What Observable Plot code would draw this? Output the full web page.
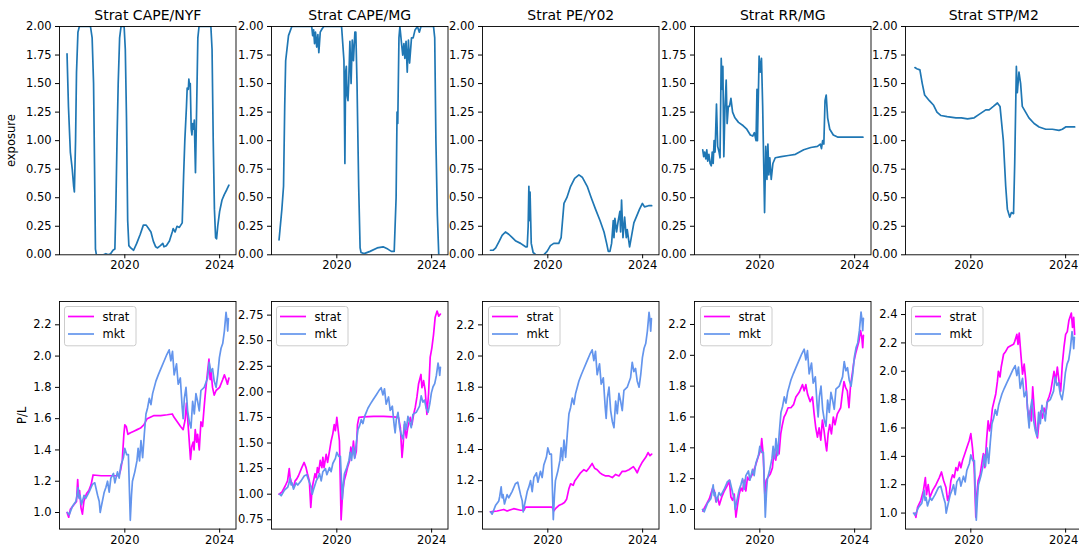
<!DOCTYPE html>
<html><head><meta charset="utf-8">
<script src="https://cdn.jsdelivr.net/npm/d3@7"></script>
<script src="https://cdn.jsdelivr.net/npm/@observablehq/plot@0.6"></script>
<style>
html,body{margin:0;padding:0;background:#fff;overflow:hidden;}
#chart{position:relative;width:1079px;height:550px;overflow:hidden;font-family:"DejaVu Sans",sans-serif;}
.cell{position:absolute;}
.cell svg{display:block;overflow:visible;max-width:none !important;}
</style></head><body><div id="chart"></div>
<script>
// ---------- data (decimal year, value) ----------
const titles = ["Strat CAPE/NYF","Strat CAPE/MG","Strat PE/Y02","Strat RR/MG","Strat STP/M2"];
const seriesNames = ["strat","mkt"];
const xTickYears = [2020, 2024];
const yTicksExposure = [0,0.25,0.5,0.75,1.0,1.25,1.5,1.75,2.0];
const yTicksPL = [
  [1.0,1.2,1.4,1.6,1.8,2.0,2.2],
  [0.75,1.0,1.25,1.5,1.75,2.0,2.25,2.5,2.75],
  [1.0,1.2,1.4,1.6,1.8,2.0,2.2],
  [1.0,1.2,1.4,1.6,1.8,2.0,2.2],
  [1.0,1.2,1.4,1.6,1.8,2.0,2.2,2.4]
];

const expCapeNyf = [[2017.56,1.76],[2017.62,1.3],[2017.7,0.9],[2017.78,0.75],[2017.84,0.6],[2017.87,0.55],[2017.92,1.0],[2017.96,1.6],[2018.02,1.95],[2018.08,2.0],[2018.55,2.0],[2018.62,1.9],[2018.68,1.5],[2018.72,0.8],[2018.76,0.05],[2018.8,0.0],[2019.1,0.0],[2019.2,0.01],[2019.3,0.0],[2019.4,0.01],[2019.5,0.04],[2019.58,0.05],[2019.62,0.4],[2019.67,1.0],[2019.72,1.5],[2019.78,1.9],[2019.84,2.0],[2019.97,2.0],[2020.02,1.8],[2020.07,1.2],[2020.12,0.3],[2020.17,0.08],[2020.25,0.06],[2020.37,0.04],[2020.5,0.1],[2020.65,0.18],[2020.78,0.26],[2020.9,0.26],[2021.0,0.23],[2021.1,0.2],[2021.2,0.12],[2021.3,0.07],[2021.38,0.06],[2021.5,0.08],[2021.6,0.1],[2021.65,0.07],[2021.75,0.08],[2021.88,0.12],[2022.0,0.2],[2022.04,0.23],[2022.12,0.2],[2022.2,0.25],[2022.3,0.24],[2022.42,0.28],[2022.48,0.7],[2022.53,1.0],[2022.6,1.3],[2022.63,1.46],[2022.68,1.45],[2022.7,1.54],[2022.73,1.48],[2022.76,1.5],[2022.8,1.1],[2022.83,1.05],[2022.86,1.15],[2022.9,1.1],[2022.93,1.18],[2022.96,0.9],[2022.98,0.72],[2023.03,1.3],[2023.08,1.9],[2023.13,2.0],[2023.63,2.0],[2023.68,1.8],[2023.73,1.0],[2023.78,0.4],[2023.83,0.15],[2023.87,0.14],[2023.92,0.25],[2024.0,0.38],[2024.1,0.48],[2024.2,0.53],[2024.3,0.57],[2024.39,0.61]];

const expCapeMg = [[2017.56,0.13],[2017.68,0.4],[2017.75,0.6],[2017.8,1.3],[2017.84,1.7],[2017.96,1.92],[2018.1,2.0],[2018.94,2.0],[2018.98,1.92],[2019.02,1.97],[2019.06,1.85],[2019.1,1.95],[2019.15,1.82],[2019.2,1.93],[2019.24,1.77],[2019.3,1.95],[2019.38,1.98],[2019.45,2.0],[2020.2,2.0],[2020.25,1.85],[2020.3,1.7],[2020.34,0.8],[2020.37,1.6],[2020.4,1.65],[2020.43,1.4],[2020.47,1.35],[2020.5,1.5],[2020.55,1.87],[2020.6,1.5],[2020.65,1.88],[2020.7,1.7],[2020.76,1.95],[2020.8,1.95],[2020.85,1.5],[2020.92,0.6],[2020.98,0.06],[2021.02,0.02],[2021.15,0.01],[2021.4,0.03],[2021.7,0.06],[2021.95,0.07],[2022.15,0.05],[2022.3,0.03],[2022.42,0.03],[2022.5,0.5],[2022.54,1.25],[2022.57,1.15],[2022.62,1.9],[2022.66,2.0],[2022.73,1.85],[2022.78,1.75],[2022.83,1.85],[2022.87,1.72],[2022.92,1.87],[2022.97,1.6],[2023.02,1.88],[2023.07,1.68],[2023.15,1.9],[2023.22,1.9],[2023.3,1.97],[2023.4,2.0],[2023.48,1.95],[2023.55,2.0],[2024.08,2.0],[2024.13,1.9],[2024.18,1.0],[2024.24,0.35],[2024.3,0.0]];

const expPeY02 = [[2017.58,0.04],[2017.7,0.04],[2017.8,0.06],[2017.95,0.12],[2018.07,0.17],[2018.21,0.2],[2018.35,0.18],[2018.5,0.15],[2018.65,0.12],[2018.85,0.1],[2019.06,0.07],[2019.13,0.07],[2019.17,0.25],[2019.2,0.6],[2019.22,0.3],[2019.25,0.55],[2019.3,0.1],[2019.38,0.02],[2019.5,0.0],[2019.83,0.0],[2019.97,0.03],[2020.11,0.08],[2020.25,0.1],[2020.46,0.1],[2020.56,0.15],[2020.68,0.45],[2020.8,0.5],[2020.96,0.6],[2021.13,0.67],[2021.31,0.7],[2021.45,0.68],[2021.66,0.6],[2021.83,0.5],[2022.01,0.4],[2022.2,0.3],[2022.37,0.2],[2022.48,0.1],[2022.55,0.03],[2022.62,0.03],[2022.69,0.1],[2022.76,0.3],[2022.79,0.15],[2022.83,0.32],[2022.9,0.2],[2022.97,0.3],[2023.04,0.38],[2023.07,0.2],[2023.11,0.48],[2023.17,0.15],[2023.24,0.33],[2023.31,0.15],[2023.35,0.22],[2023.45,0.07],[2023.52,0.15],[2023.63,0.28],[2023.77,0.35],[2023.87,0.4],[2023.99,0.45],[2024.08,0.42],[2024.25,0.43],[2024.38,0.43]];

const expRrMg = [[2017.59,0.92],[2017.63,0.86],[2017.67,0.9],[2017.72,0.84],[2017.76,0.92],[2017.8,0.82],[2017.85,0.88],[2017.9,0.8],[2017.95,0.78],[2017.99,0.9],[2018.03,0.8],[2018.07,1.0],[2018.11,0.9],[2018.17,1.32],[2018.22,0.95],[2018.28,0.9],[2018.32,0.85],[2018.37,1.72],[2018.41,1.45],[2018.44,1.65],[2018.48,0.86],[2018.53,1.3],[2018.58,1.53],[2018.62,1.15],[2018.67,1.3],[2018.72,1.3],[2018.78,1.37],[2018.85,1.25],[2018.95,1.2],[2019.1,1.16],[2019.3,1.13],[2019.45,1.1],[2019.6,1.05],[2019.7,1.04],[2019.77,1.07],[2019.84,1.0],[2019.88,1.45],[2019.9,1.0],[2019.97,1.74],[2020.02,1.6],[2020.07,1.72],[2020.12,1.3],[2020.2,0.37],[2020.25,0.95],[2020.3,0.66],[2020.34,0.97],[2020.38,0.7],[2020.42,0.85],[2020.48,0.66],[2020.55,0.8],[2020.65,0.85],[2020.9,0.86],[2021.2,0.87],[2021.5,0.88],[2021.85,0.92],[2022.15,0.94],[2022.43,0.95],[2022.55,0.97],[2022.6,0.93],[2022.65,1.0],[2022.7,0.97],[2022.75,1.35],[2022.8,1.4],[2022.86,1.2],[2022.95,1.1],[2023.1,1.05],[2023.3,1.03],[2023.7,1.03],[2024.35,1.03]];

const expStpM2 = [[2017.64,1.64],[2017.72,1.63],[2017.85,1.62],[2017.95,1.5],[2018.05,1.4],[2018.25,1.35],[2018.43,1.31],[2018.57,1.25],[2018.74,1.22],[2019.0,1.21],[2019.37,1.2],[2019.6,1.2],[2019.86,1.19],[2020.14,1.2],[2020.35,1.23],[2020.63,1.27],[2020.77,1.27],[2020.95,1.3],[2021.12,1.33],[2021.23,1.3],[2021.37,1.0],[2021.47,0.6],[2021.54,0.4],[2021.64,0.33],[2021.71,0.37],[2021.8,0.36],[2021.85,0.8],[2021.92,1.65],[2021.96,1.42],[2022.03,1.6],[2022.1,1.5],[2022.17,1.3],[2022.31,1.25],[2022.45,1.2],[2022.67,1.15],[2022.88,1.12],[2023.16,1.1],[2023.44,1.1],[2023.72,1.09],[2023.86,1.1],[2024.0,1.12],[2024.38,1.12]];

const mkt = [[2017.58,1.0],[2017.65,0.985],[2017.79,1.04],[2017.93,1.07],[2017.97,1.1],[2018.03,1.16],[2018.07,1.09],[2018.11,1.11],[2018.17,1.05],[2018.28,1.11],[2018.35,1.09],[2018.49,1.13],[2018.63,1.18],[2018.73,1.19],[2018.85,1.11],[2018.92,1.07],[2018.96,1.0],[2019.01,1.04],[2019.13,1.13],[2019.2,1.16],[2019.27,1.2],[2019.34,1.13],[2019.41,1.22],[2019.52,1.25],[2019.58,1.19],[2019.69,1.26],[2019.76,1.22],[2019.83,1.3],[2019.94,1.35],[2020.0,1.41],[2020.08,1.37],[2020.15,1.37],[2020.23,0.95],[2020.28,1.11],[2020.32,1.2],[2020.42,1.26],[2020.51,1.33],[2020.56,1.41],[2020.62,1.33],[2020.68,1.46],[2020.75,1.35],[2020.82,1.5],[2020.89,1.63],[2020.96,1.67],[2021.03,1.73],[2021.1,1.69],[2021.17,1.76],[2021.24,1.8],[2021.31,1.84],[2021.41,1.88],[2021.52,1.92],[2021.66,1.97],[2021.77,2.01],[2021.87,2.04],[2021.94,1.97],[2022.01,2.03],[2022.08,1.88],[2022.18,1.95],[2022.25,1.82],[2022.34,1.86],[2022.42,1.67],[2022.46,1.6],[2022.51,1.73],[2022.58,1.8],[2022.65,1.65],[2022.72,1.58],[2022.79,1.54],[2022.86,1.71],[2022.93,1.63],[2023.0,1.76],[2023.07,1.71],[2023.14,1.65],[2023.21,1.78],[2023.35,1.8],[2023.49,1.86],[2023.56,1.96],[2023.63,1.9],[2023.7,1.92],[2023.77,1.84],[2023.85,1.8],[2023.92,1.88],[2023.99,1.99],[2024.06,2.05],[2024.13,2.08],[2024.2,2.16],[2024.27,2.28],[2024.31,2.23],[2024.34,2.16],[2024.37,2.24]];

const stratCapeNyf = [[2017.56,1.0],[2017.63,0.97],[2017.7,1.02],[2017.85,1.05],[2017.96,1.07],[2018.01,1.21],[2018.05,1.1],[2018.09,1.14],[2018.15,1.03],[2018.21,0.99],[2018.27,1.07],[2018.38,1.12],[2018.48,1.14],[2018.58,1.18],[2018.66,1.24],[2019.0,1.235],[2019.4,1.235],[2019.75,1.235],[2019.82,1.27],[2019.89,1.33],[2019.96,1.5],[2020.0,1.56],[2020.06,1.55],[2020.13,1.5],[2020.24,1.51],[2020.38,1.52],[2020.52,1.53],[2020.66,1.54],[2020.8,1.56],[2020.94,1.6],[2021.23,1.62],[2021.51,1.62],[2021.79,1.625],[2022.0,1.63],[2022.07,1.61],[2022.21,1.58],[2022.35,1.55],[2022.46,1.53],[2022.54,1.59],[2022.6,1.7],[2022.65,1.6],[2022.72,1.45],[2022.77,1.34],[2022.82,1.42],[2022.88,1.45],[2022.92,1.4],[2022.97,1.53],[2023.03,1.45],[2023.07,1.5],[2023.14,1.4],[2023.21,1.58],[2023.28,1.55],[2023.35,1.68],[2023.39,1.75],[2023.49,1.9],[2023.55,1.98],[2023.6,1.85],[2023.64,1.9],[2023.7,1.8],[2023.77,1.75],[2023.85,1.78],[2024.0,1.8],[2024.13,1.85],[2024.2,1.88],[2024.27,1.85],[2024.33,1.82],[2024.39,1.86]];

const stratCapeMg = [[2017.56,1.0],[2017.68,1.02],[2017.82,1.08],[2017.92,1.13],[2017.99,1.25],[2018.03,1.16],[2018.1,1.1],[2018.17,1.07],[2018.24,1.13],[2018.31,1.15],[2018.38,1.18],[2018.52,1.26],[2018.62,1.31],[2018.7,1.26],[2018.76,1.2],[2018.84,1.13],[2018.9,0.87],[2018.94,1.0],[2018.99,1.1],[2019.08,1.2],[2019.13,1.16],[2019.18,1.26],[2019.23,1.21],[2019.3,1.33],[2019.37,1.26],[2019.41,1.36],[2019.46,1.26],[2019.55,1.39],[2019.61,1.31],[2019.69,1.42],[2019.76,1.52],[2019.83,1.59],[2019.89,1.68],[2019.94,1.62],[2020.0,1.75],[2020.06,1.62],[2020.11,1.52],[2020.18,0.75],[2020.24,1.0],[2020.31,1.13],[2020.39,1.2],[2020.45,1.26],[2020.54,1.33],[2020.59,1.46],[2020.65,1.39],[2020.7,1.52],[2020.76,1.36],[2020.82,1.42],[2020.87,1.68],[2020.93,1.75],[2021.13,1.755],[2021.55,1.76],[2021.97,1.76],[2022.39,1.755],[2022.6,1.75],[2022.68,1.65],[2022.75,1.36],[2022.79,1.46],[2022.85,1.68],[2022.93,1.55],[2022.99,1.65],[2023.1,1.75],[2023.17,1.68],[2023.24,1.78],[2023.31,1.85],[2023.38,1.95],[2023.45,2.08],[2023.55,2.17],[2023.59,2.04],[2023.66,2.11],[2023.73,2.01],[2023.8,1.78],[2023.87,1.98],[2023.94,2.34],[2024.01,2.43],[2024.08,2.56],[2024.15,2.73],[2024.23,2.79],[2024.3,2.74],[2024.37,2.76]];

const stratPeY02 = [[2017.58,1.0],[2017.86,1.005],[2018.14,1.015],[2018.28,1.005],[2018.56,1.02],[2018.85,1.01],[2018.99,1.01],[2019.06,1.03],[2019.55,1.03],[2020.18,1.03],[2020.25,1.005],[2020.32,1.02],[2020.46,1.04],[2020.6,1.05],[2020.7,1.06],[2020.79,1.08],[2020.89,1.15],[2020.96,1.18],[2021.07,1.17],[2021.14,1.2],[2021.24,1.22],[2021.38,1.25],[2021.52,1.27],[2021.63,1.26],[2021.73,1.28],[2021.87,1.31],[2021.97,1.28],[2022.08,1.27],[2022.2,1.25],[2022.3,1.24],[2022.44,1.23],[2022.58,1.23],[2022.72,1.22],[2022.86,1.24],[2023.0,1.23],[2023.14,1.26],[2023.28,1.26],[2023.42,1.27],[2023.61,1.29],[2023.7,1.27],[2023.77,1.25],[2023.85,1.28],[2023.99,1.32],[2024.13,1.35],[2024.23,1.38],[2024.31,1.36],[2024.38,1.37]];

const stratRrMg = [[2017.59,0.99],[2017.73,1.03],[2017.87,1.07],[2018.01,1.14],[2018.08,1.12],[2018.15,1.05],[2018.22,1.08],[2018.29,1.03],[2018.39,1.08],[2018.5,1.12],[2018.64,1.16],[2018.71,1.19],[2018.78,1.08],[2018.85,1.06],[2018.92,1.1],[2018.99,0.95],[2019.06,1.03],[2019.13,1.1],[2019.2,1.14],[2019.27,1.12],[2019.34,1.19],[2019.41,1.12],[2019.48,1.21],[2019.55,1.19],[2019.69,1.23],[2019.83,1.29],[2019.93,1.34],[2020.04,1.39],[2020.08,1.46],[2020.14,1.36],[2020.21,1.1],[2020.27,1.19],[2020.35,1.21],[2020.44,1.23],[2020.53,1.27],[2020.6,1.38],[2020.67,1.32],[2020.74,1.4],[2020.81,1.36],[2020.88,1.49],[2020.95,1.55],[2021.02,1.6],[2021.09,1.62],[2021.19,1.66],[2021.31,1.66],[2021.42,1.68],[2021.52,1.73],[2021.66,1.76],[2021.8,1.81],[2021.87,1.77],[2021.94,1.81],[2022.01,1.75],[2022.12,1.7],[2022.22,1.73],[2022.29,1.62],[2022.36,1.53],[2022.43,1.47],[2022.5,1.53],[2022.57,1.45],[2022.64,1.58],[2022.71,1.51],[2022.78,1.42],[2022.82,1.38],[2022.88,1.49],[2022.95,1.55],[2023.02,1.49],[2023.1,1.6],[2023.17,1.55],[2023.27,1.62],[2023.34,1.64],[2023.41,1.66],[2023.48,1.75],[2023.55,1.83],[2023.62,1.79],[2023.69,1.77],[2023.76,1.66],[2023.83,1.81],[2023.9,1.88],[2023.97,1.96],[2024.04,2.01],[2024.11,2.05],[2024.18,2.09],[2024.25,2.16],[2024.3,2.12],[2024.34,2.05],[2024.37,2.13]];

const stratStpM2 = [[2017.64,1.0],[2017.68,0.97],[2017.75,1.04],[2017.89,1.09],[2018.0,1.16],[2018.08,1.25],[2018.13,1.13],[2018.2,1.2],[2018.27,1.11],[2018.39,1.16],[2018.53,1.2],[2018.67,1.25],[2018.76,1.29],[2018.85,1.23],[2018.95,1.18],[2019.02,1.09],[2019.09,1.13],[2019.16,1.23],[2019.23,1.27],[2019.3,1.25],[2019.37,1.32],[2019.44,1.3],[2019.52,1.36],[2019.58,1.32],[2019.65,1.37],[2019.75,1.42],[2019.83,1.46],[2019.93,1.51],[2020.0,1.56],[2020.07,1.46],[2020.14,1.32],[2020.21,0.97],[2020.25,1.13],[2020.31,1.23],[2020.39,1.27],[2020.48,1.37],[2020.53,1.42],[2020.59,1.32],[2020.67,1.53],[2020.73,1.65],[2020.79,1.58],[2020.84,1.63],[2020.91,1.74],[2020.98,1.79],[2021.05,1.84],[2021.12,1.93],[2021.16,2.0],[2021.23,1.96],[2021.28,2.03],[2021.38,2.12],[2021.47,2.14],[2021.57,2.17],[2021.68,2.18],[2021.8,2.19],[2021.85,2.21],[2021.94,2.26],[2021.99,2.19],[2022.04,2.27],[2022.11,2.12],[2022.18,1.98],[2022.25,2.05],[2022.32,1.93],[2022.39,1.74],[2022.46,1.65],[2022.5,1.72],[2022.55,1.65],[2022.61,1.89],[2022.67,1.74],[2022.74,1.6],[2022.81,1.53],[2022.88,1.65],[2022.95,1.72],[2023.02,1.67],[2023.09,1.74],[2023.16,1.7],[2023.23,1.79],[2023.3,1.82],[2023.37,1.86],[2023.44,1.93],[2023.51,2.0],[2023.58,1.93],[2023.65,2.03],[2023.72,1.93],[2023.79,1.86],[2023.86,2.05],[2023.93,2.17],[2024.0,2.26],[2024.07,2.28],[2024.14,2.36],[2024.24,2.41],[2024.29,2.31],[2024.34,2.38],[2024.38,2.26]];

const exposures = [expCapeNyf, expCapeMg, expPeY02, expRrMg, expStpM2];
const strats = [stratCapeNyf, stratCapeMg, stratPeY02, stratRrMg, stratStpM2];

// ---------- layout / style config ----------
const plDomains = [[0.894,2.349],[0.659,2.883],[0.889,2.35],[0.873,2.349],[0.887,2.492]];
const plFormats = [".1f",".2f",".1f",".1f",".1f"];
const xDomainDec = [2017.242, 2024.689];
const panelLefts = [59, 270.7, 482.3, 694.3, 905.3];
const W = 176.5;
const colors = {exposure:"#1f77b4", strat:"#ff00ff", mkt:"#6495ed"};
const FS = 11.5, TITLE_FS = 14, LW = 1.7;

const toDate = t => { const y = Math.floor(t); const a = Date.UTC(y,0,1), b = Date.UTC(y+1,0,1); return new Date(a + (t-y)*(b-a)); };
const xDomain = xDomainDec.map(toDate);
const xTicks = xTickYears.map(y => new Date(Date.UTC(y,0,1)));
const chart = document.getElementById("chart");

function panel({series, yDomain, yTicks, yFmt, title, ylabel, labelOffset, left, top, H, mt, mb, xdx}) {
  const ml = 59, mr = 6;
  const marks = [];
  if (title) marks.push(Plot.text([title], {frameAnchor:"top", dy:-6.5, lineAnchor:"bottom", fontSize:TITLE_FS, fill:"black"}));
  series.forEach(s => marks.push(Plot.line(s.data, {x: d => toDate(d[0]), y: d => d[1], stroke: s.color, strokeWidth: LW, clip: true})));
  marks.push(Plot.frame({stroke:"black", strokeWidth:0.9}));
  marks.push(Plot.axisX({ticks: xTicks, tickFormat: d3.utcFormat("%Y"), tickSize:4, tickPadding:2.5, label:null, fontSize:FS}));
  if (xdx) {
    // replace the default label placement for the rightmost panel (labels nudged left to stay inside the page)
    marks.pop();
    marks.push(Plot.axisX({ticks: xTicks, tickFormat: d3.utcFormat("%Y"), tickSize:4, tickPadding:2.5, label:null, fontSize:FS, text: null}));
    marks.push(Plot.axisX({ticks: xTicks, tickFormat: d3.utcFormat("%Y"), tickSize:0, tickPadding:6.5, label:null, fontSize:FS, dx: xdx}));
  }
  marks.push(Plot.axisY({ticks: yTicks, tickFormat: d3.format(yFmt), tickSize:4, tickPadding:4, fontSize:FS,
    label: ylabel ?? null, labelAnchor:"center", labelArrow:"none", labelOffset: labelOffset ?? 40}));
  const width = ml + W + mr, height = mt + H + mb;
  const svg = Plot.plot({
    width, height,
    marginLeft: ml, marginRight: mr, marginTop: mt, marginBottom: mb,
    style: {fontFamily:"DejaVu Sans", fontSize: FS + "px", background:"transparent", color:"black", overflow:"visible", maxWidth:"none"},
    x: {type:"utc", domain: xDomain},
    y: {domain: yDomain},
    marks
  });
  const div = document.createElement("div");
  div.className = "cell";
  div.style.left = (left - ml) + "px";
  div.style.top = (top - mt) + "px";
  div.style.width = width + "px";
  div.style.height = height + "px";
  div.appendChild(svg);
  chart.appendChild(div);
}

function legend(left, top) {
  const svg = d3.create("svg").attr("width", 74).attr("height", 42)
    .style("position","absolute").style("left", left + "px").style("top", top + "px");
  svg.append("rect").attr("x",0.5).attr("y",0.5).attr("width",71.5).attr("height",39.3).attr("rx",2.5)
    .attr("fill","white").attr("fill-opacity",0.8).attr("stroke","#cccccc").attr("stroke-width",1);
  const cols = [colors.strat, colors.mkt];
  seriesNames.forEach((n, i) => {
    const y = 10.5 + i * 17.5;
    svg.append("line").attr("x1",4).attr("x2",30).attr("y1",y).attr("y2",y).attr("stroke",cols[i]).attr("stroke-width",LW);
    svg.append("text").attr("x",38.5).attr("y",y).attr("dy","0.35em").attr("font-family","DejaVu Sans").attr("font-size",FS).attr("fill","black").text(n);
  });
  chart.appendChild(svg.node());
}

for (let i = 0; i < 5; i++) {
  panel({
    series: [{data: exposures[i], color: colors.exposure}],
    yDomain: [0, 2], yTicks: yTicksExposure, yFmt: ".2f",
    title: titles[i], ylabel: i === 0 ? "exposure" : null, labelOffset: 52.6,
    left: panelLefts[i], top: 26, H: 228.3, mt: 26, mb: 26, xdx: i === 4 ? -2 : 0
  });
}
for (let i = 0; i < 5; i++) {
  panel({
    series: [{data: strats[i], color: colors.strat}, {data: mkt, color: colors.mkt}],
    yDomain: plDomains[i], yTicks: yTicksPL[i], yFmt: plFormats[i],
    title: null, ylabel: i === 0 ? "P/L" : null, labelOffset: 42.1,
    left: panelLefts[i], top: 300.7, H: 227.6, mt: 10, mb: 22, xdx: i === 4 ? -2 : 0
  });
  legend(panelLefts[i] + 5.3, 305.7);
}
</script></body></html>
